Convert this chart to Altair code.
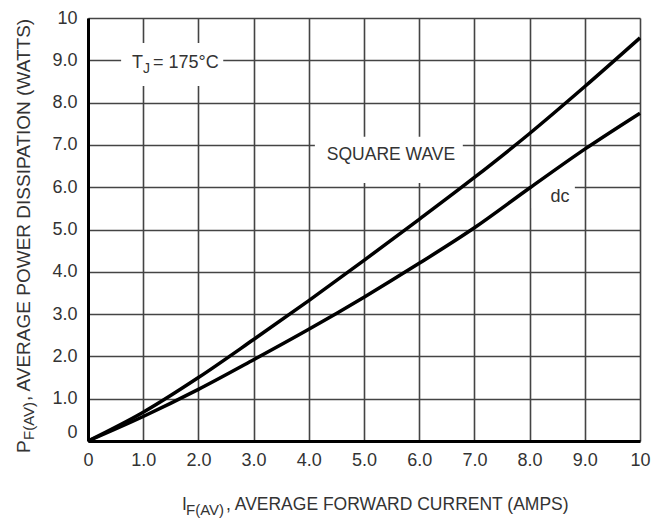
import altair as alt
import pandas as pd

# ---- data ----
current = [0, 1, 2, 3, 4, 5, 6, 7, 8, 9, 10]
square_wave = [0, 0.68, 1.50, 2.40, 3.32, 4.27, 5.24, 6.23, 7.27, 8.38, 9.53]
dc = [0, 0.58, 1.22, 1.92, 2.64, 3.40, 4.20, 5.04, 5.98, 6.90, 7.75]
tick_values = [0, 1, 2, 3, 4, 5, 6, 7, 8, 9, 10]

FONT = "Liberation Sans"
TXT = "#333333"
GRID = "#444444"

curves = pd.DataFrame({
    "I": current + current,
    "P": square_wave + dc,
    "series": ["SQUARE WAVE"] * len(current) + ["dc"] * len(current),
})

# white gaps behind the in-plot labels (data units)
gaps = pd.DataFrame({
    "x": [0.60, 4.11, 8.04],
    "x2": [2.45, 6.79, 8.82],
    "y": [8.39, 6.10, 5.50],
    "y2": [9.41, 7.19, 6.12],
})

xs = alt.Scale(domain=[0, 10], nice=False, zero=False)
ys = alt.Scale(domain=[0, 10], nice=False, zero=False)
label_expr = "datum.value == 0 ? '0' : datum.value == 10 ? '10' : format(datum.value, '.1f')"

x_axis = alt.Axis(values=tick_values, labelExpr=label_expr, title=None, ticks=False,
                  domainColor="black", domainWidth=3, gridColor=GRID, gridWidth=1.6,
                  labelFont=FONT, labelFontSize=18, labelColor=TXT, labelPadding=10,
                  labelFlush=False, labelOverlap=False)
y_axis = alt.Axis(values=tick_values, labelExpr=label_expr, title=None, ticks=False,
                  domainColor="black", domainWidth=3, gridColor=GRID, gridWidth=1.6,
                  labelFont=FONT, labelFontSize=18, labelColor=TXT, labelPadding=11,
                  labelFlush=False, labelOverlap=False,
                  labelBaseline={"condition": {"test": "datum.value == 0", "value": "bottom"},
                                 "value": "middle"})

gap_layer = alt.Chart(gaps).mark_rect(color="white").encode(
    x=alt.X("x:Q", scale=xs, axis=x_axis),
    x2="x2:Q",
    y=alt.Y("y:Q", scale=ys, axis=y_axis),
    y2="y2:Q",
)

line_layer = alt.Chart(curves).mark_line(color="black", strokeWidth=3.5, interpolate="monotone").encode(
    x=alt.X("I:Q", scale=xs),
    y=alt.Y("P:Q", scale=ys),
    detail="series:N",
)

# text pieces: (text, x_px, y_px, size, angle, align)
pieces = [
    ("T", 44, 45, 18, 0, "left"),
    ("J", 55, 51, 14, 0, "left"),
    ("= 175°C", 65, 45, 18, 0, "left"),
    ("SQUARE WAVE", 303, 137, 17.5, 0, "center"),
    ("dc", 472, 179, 18, 0, "center"),
    ("I", 94, 487, 17.5, 0, "left"),
    ("F(AV)", 98, 492, 15, 0, "left"),
    (", AVERAGE FORWARD CURRENT (AMPS)", 138, 487, 17.5, 0, "left"),
    ("P", -64, 435, 19, 270, "left"),
    ("F(AV)", -59, 422, 15, 270, "left"),
    (", AVERAGE POWER DISSIPATION (WATTS)", -64, 383, 19, 270, "left"),
]

text_layers = []
for t, px, py, size, ang, al in pieces:
    text_layers.append(
        alt.Chart(pd.DataFrame({"t": [t]})).mark_text(
            font=FONT, fontSize=size, color=TXT, align=al, baseline="middle", angle=ang
        ).encode(x=alt.value(px), y=alt.value(py), text="t:N")
    )

chart = alt.layer(gap_layer, line_layer, *text_layers).properties(
    width=552, height=423,
    padding={"left": 80, "top": 10, "right": 17, "bottom": 78},
    autosize=alt.AutoSizeParams(type="none"),
).configure_view(stroke=GRID, strokeWidth=1.6).configure(background="white")

chart.save("out.html", embed_options={"renderer": "svg", "actions": False})
